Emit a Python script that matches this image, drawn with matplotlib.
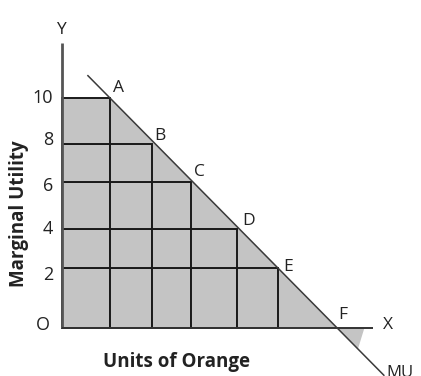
import matplotlib.pyplot as plt

plt.rcParams['font.family'] = ['Open Sans', 'DejaVu Sans']

# Marginal utility of each unit consumed (points A..E), and where MU hits zero (F)
units = [1.11, 2.08, 2.99, 4.05, 5.0]
mu = [10, 8, 6.35, 4.3, 2.6]
point_names = ['A', 'B', 'C', 'D', 'E', 'F']
zero_unit = 6.37

tick_values = ['10', '8', '6', '4', '2']
tick_pos = [10, 8.17, 6.17, 4.3, 2.3]

GRAY = '#c4c4c4'
INK = '#222222'

fig = plt.figure(figsize=(4.21, 3.76), dpi=100)
ax = fig.add_axes([0, 0, 1, 1])
ax.set_xlim(-1.435, 8.31)
ax.set_ylim(-2.087, 14.26)
ax.axis('off')

slope = (0 - mu[0]) / (zero_unit - units[0])
def mu_line(x):
    return mu[0] + slope * (x - units[0])

# total utility area under the MU curve
ax.fill([0, 0, units[0], zero_unit], [0, mu[0], mu[0], 0], color=GRAY, lw=0, zorder=1)
# negative MU beyond F
tri_x = [zero_unit, 7.0, 6.85]
ax.fill(tri_x, [0, 0, mu_line(6.85)], color=GRAY, lw=0, zorder=1)

# staircase of utility blocks
lefts = [0] + units[:-1]
for i in range(len(units)):
    levels = [0] + sorted(mu[i:])
    for lo, hi in zip(levels[:-1], levels[1:]):
        ax.bar(lefts[i], hi - lo, units[i] - lefts[i], bottom=lo, align='edge',
               facecolor=GRAY, edgecolor='#1a1a1a', linewidth=1.4, zorder=2)

# axes
ax.plot([0, 0], [0, 12.39], color='#555555', lw=2, zorder=3, solid_capstyle='butt')
ax.plot([0, 7.2], [0, 0], color='#333333', lw=1.4, zorder=3, solid_capstyle='butt')

# MU curve
xs = [0.6, 7.45]
ax.plot(xs, [mu_line(x) for x in xs], color='#3a3a3a', lw=1.1, zorder=4)

# point letters
pts_x = units + [zero_unit]
pts_y = mu + [0]
offsets = [(6, 7), (6, 6), (6, 7), (8, 6), (7, 1), (4, 9)]
for name, x, y, off in zip(point_names, pts_x, pts_y, offsets):
    ax.annotate(name, (x, y), xytext=off, textcoords='offset points',
                ha='center', va='center', fontsize=12.5, color=INK)

for lab, pos in zip(tick_values, tick_pos):
    ax.text(-0.21, pos, lab, ha='right', va='center', fontsize=13, color=INK)
ax.text(-0.44, 0.13, 'O', ha='center', va='center', fontsize=13, color=INK)

ax.text(-0.02, 12.95, 'Y', ha='center', va='center', fontsize=12.5, color=INK)
ax.text(7.55, 0.13, 'X', ha='center', va='center', fontsize=12.5, color=INK)
ax.text(7.5, -1.6, 'MU', ha='left', va='top', fontsize=12, color=INK)

ax.text(-1.0, 4.95, 'Marginal Utility', rotation=90, ha='center', va='center',
        fontsize=13.5, fontweight='bold', color=INK)
ax.text(2.65, -1.5, 'Units of Orange', ha='center', va='center',
        fontsize=13.5, fontweight='bold', color=INK)

fig.savefig('out.png', dpi=100)
